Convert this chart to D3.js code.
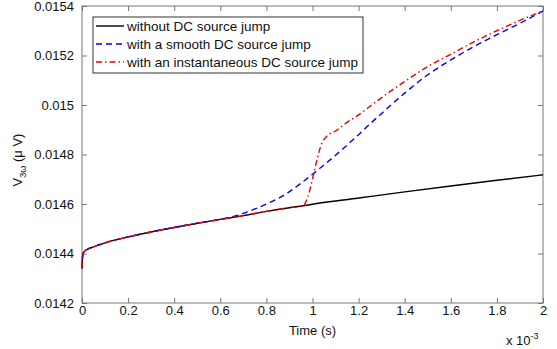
<!DOCTYPE html>
<html>
<head>
<meta charset="utf-8">
<script src="https://cdn.jsdelivr.net/npm/d3@7"></script>
<style>
  body { margin: 0; background: #fff; }
  svg { font-family: "Liberation Sans", Arial, sans-serif; }
  .tick text { font-size: 13px; fill: #111; }
  .tick line { stroke: #777; }
  .domain { display: none; }
</style>
</head>
<body>
<svg id="chart" width="557" height="349"></svg>
<script>
// time in ms (axis shows x 10^-3 s)
const tBlack = [0, 0.002, 0.005, 0.01, 0.02, 0.05, 0.1, 0.2, 0.3, 0.4, 0.5, 0.6, 0.7, 0.8, 0.9, 0.96, 1.0, 1.2, 1.4, 1.6, 1.8, 2.0];
const vBlack = [0.01434, 0.01438, 0.0144, 0.014408, 0.014415, 0.014427, 0.014443, 0.014467, 0.014487, 0.014505, 0.014522, 0.014538, 0.014553, 0.01457, 0.014585, 0.014593, 0.014599, 0.014624, 0.014649, 0.014673, 0.014696, 0.014718];

const tSmooth = [0.65, 0.7, 0.75, 0.8, 0.85, 0.9, 0.95, 1.0, 1.05, 1.1, 1.15, 1.2, 1.25, 1.3, 1.35, 1.4, 1.5, 1.6, 1.7, 1.8, 1.9, 2.0];
const vSmooth = [0.014548, 0.014562, 0.01458, 0.0146, 0.014622, 0.01465, 0.014684, 0.01472, 0.014758, 0.014797, 0.014838, 0.01488, 0.014924, 0.014966, 0.015008, 0.015048, 0.015122, 0.015182, 0.015236, 0.015284, 0.01533, 0.01538];

const tJump = [0.96, 0.98, 1.0, 1.02, 1.04, 1.06, 1.1, 1.15, 1.2, 1.25, 1.3, 1.4, 1.5, 1.6, 1.7, 1.8, 1.9, 2.0];
const vJump = [0.014593, 0.01463, 0.0147, 0.01478, 0.014845, 0.014872, 0.014895, 0.01493, 0.01496, 0.014995, 0.01503, 0.015095, 0.015155, 0.015205, 0.015255, 0.0153, 0.015342, 0.01538];

const xTicks = [0, 0.2, 0.4, 0.6, 0.8, 1, 1.2, 1.4, 1.6, 1.8, 2];
const yTicks = [0.0142, 0.0144, 0.0146, 0.0148, 0.015, 0.0152, 0.0154];
const yTickLabels = ["0.0142", "0.0144", "0.0146", "0.0148", "0.015", "0.0152", "0.0154"];
const legendLabels = ["without DC source jump", "with a smooth DC source jump", "with an instantaneous DC source jump"];

const plotL = 82, plotR = 543, plotT = 6, plotB = 303;

const svg = d3.select("#chart");

const x = d3.scaleLinear().domain([0, 2]).range([plotL, plotR]);
const y = d3.scaleLinear().domain([0.0142, 0.0154]).range([plotB, plotT]);

// axes with inward ticks on all four sides
svg.append("g")
  .attr("transform", `translate(0,${plotB})`)
  .call(d3.axisBottom(x).tickValues(xTicks).tickSize(-5).tickPadding(3).tickFormat(d3.format("")));
svg.append("g")
  .attr("transform", `translate(0,${plotT})`)
  .call(d3.axisTop(x).tickValues(xTicks).tickSize(-5).tickFormat(""));
svg.append("g")
  .attr("transform", `translate(${plotL},0)`)
  .call(d3.axisLeft(y).tickValues(yTicks).tickSize(-5).tickPadding(8).tickFormat((d, i) => yTickLabels[i]));
svg.append("g")
  .attr("transform", `translate(${plotR},0)`)
  .call(d3.axisRight(y).tickValues(yTicks).tickSize(-5).tickFormat(""));

svg.append("rect")
  .attr("x", plotL).attr("y", plotT)
  .attr("width", plotR - plotL).attr("height", plotB - plotT)
  .attr("fill", "none").attr("stroke", "#777");

const line = d3.line().x(d => x(d[0])).y(d => y(d[1])).curve(d3.curveMonotoneX);
const zip = (a, b) => a.map((v, i) => [v, b[i]]);

// smooth and jump curves follow black before they split off
const jumpStart = tBlack.filter(t => t < 0.96).map((t, i) => [t, vBlack[i]]);
const smoothStart = tBlack.filter(t => t < 0.65).map((t, i) => [t, vBlack[i]]);

const series = [
  { data: zip(tBlack, vBlack), color: "#000", dash: null, width: 1.4 },
  { data: smoothStart.concat(zip(tSmooth, vSmooth)), color: "#0000ee", dash: "6,4", width: 1.4 },
  { data: jumpStart.concat(zip(tJump, vJump)), color: "#ee0000", dash: "6,3,1.5,3", width: 1.4 }
];

svg.append("g").selectAll("path")
  .data(series)
  .join("path")
  .attr("d", d => line(d.data))
  .attr("fill", "none")
  .attr("stroke", d => d.color)
  .attr("stroke-width", d => d.width)
  .attr("stroke-dasharray", d => d.dash);

// legend
const lg = svg.append("g");
lg.append("rect")
  .attr("x", 93).attr("y", 17).attr("width", 270).attr("height", 56)
  .attr("fill", "#fff").attr("stroke", "#333").attr("stroke-width", 1);
legendLabels.forEach((label, i) => {
  const yy = 26 + i * 18;
  lg.append("line")
    .attr("x1", 96).attr("x2", 124).attr("y1", yy).attr("y2", yy)
    .attr("stroke", series[i].color).attr("stroke-width", 1.4)
    .attr("stroke-dasharray", series[i].dash);
  lg.append("text")
    .attr("x", 127).attr("y", yy + 5)
    .attr("font-size", 13.5).attr("fill", "#111")
    .text(label);
});

// axis labels
svg.append("text")
  .attr("x", (plotL + plotR) / 2).attr("y", 335)
  .attr("text-anchor", "middle").attr("font-size", 13).attr("fill", "#111")
  .text("Time (s)");

const ex = svg.append("text")
  .attr("x", 506).attr("y", 345)
  .attr("font-size", 13).attr("fill", "#111");
ex.append("tspan").text("x 10");
ex.append("tspan").attr("dy", -6).attr("font-size", 9).text("-3");

const yl = svg.append("text")
  .attr("transform", "translate(22,160) rotate(-90)")
  .attr("text-anchor", "middle").attr("font-size", 13).attr("fill", "#111");
yl.append("tspan").text("V");
yl.append("tspan").attr("dy", 4).attr("font-size", 9).text("3\u03c9");
yl.append("tspan").attr("dy", -4).text(" (\u03bc V)");
</script>
</body>
</html>
